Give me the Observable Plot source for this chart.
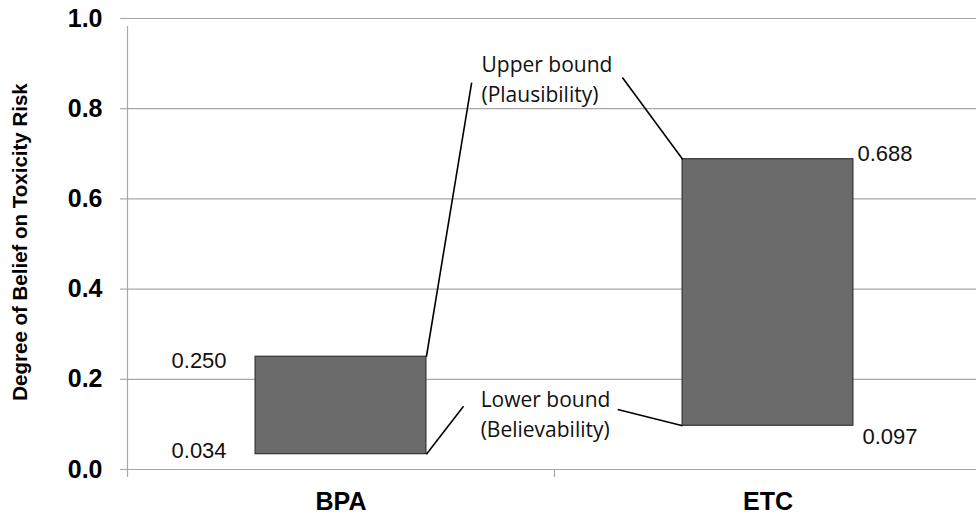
<!DOCTYPE html>
<html><head><meta charset="utf-8">
<script src="https://cdn.jsdelivr.net/npm/d3@7"></script>
<script src="https://cdn.jsdelivr.net/npm/@observablehq/plot@0.6"></script>
<style>body{margin:0;background:#fff}</style>
</head><body><div id="chart"></div>
<script>
const categories = ["BPA", "ETC"];
const lowerBound = [0.034, 0.097];
const upperBound = [0.250, 0.688];
const yTicks = [0, 0.2, 0.4, 0.6, 0.8, 1.0];
const yLabel = "Degree of Belief on Toxicity Risk";
const annotationTexts = ["Upper bound\n(Plausibility)", "Lower bound\n(Believability)"];
const annotationX = [0.829, 0.827];
const annotationY = [0.929, 0.186];
// leader line targets (data units) for [upper, lower] bound of each category
const leaderUpperX = [0.806, 1.159];
const leaderUpperY = [0.858, 0.869];
const leaderLowerX = [0.787, 1.148];
const leaderLowerY = [0.140, 0.133];

const barHalf = 0.2;
const bars = categories.map((c, i) => ({cat: c, i, lo: lowerBound[i], hi: upperBound[i]}));
const leaders = [];
bars.forEach((b, i) => {
  const edge = i === 0 ? b.i + 0.5 + barHalf : b.i + 0.5 - barHalf;
  leaders.push({x1: edge, y1: b.hi, x2: leaderUpperX[i], y2: leaderUpperY[i]});
  leaders.push({x1: edge, y1: b.lo, x2: leaderLowerX[i], y2: leaderLowerY[i]});
});
const annotations = annotationTexts.map((t, i) => ({t, x: annotationX[i], y: annotationY[i]}));
const fmt = d3.format(".3f");
const gray = "#a8a8a8";
const valFont = {fontSize: 22, fontFamily: "Liberation Sans, Arial, sans-serif", fill: "#111"};

const chart = Plot.plot({
  width: 976,
  height: 523,
  marginLeft: 127,
  marginRight: 0,
  marginTop: 18,
  marginBottom: 54,
  style: {fontFamily: "Liberation Sans, Arial, sans-serif", background: "#fff", color: "#000", overflow: "visible"},
  x: {domain: [0, categories.length], range: [127, 981], axis: null},
  y: {domain: [0, 1], axis: null},
  marks: [
    Plot.gridY(yTicks, {stroke: gray, strokeOpacity: 1, strokeWidth: 1.2}),
    Plot.axisY(yTicks, {tickSize: 7, tickPadding: 18, stroke: gray, strokeWidth: 1.2, tickFormat: d3.format(".1f"), fontSize: 25, fontWeight: "bold", fill: "#000"}),
    Plot.axisX(d3.range(categories.length + 1), {tickSize: 8, stroke: gray, strokeWidth: 1.2, tickFormat: () => "", anchor: "bottom"}),
    Plot.ruleY([0], {stroke: gray, strokeWidth: 1.2}),
    Plot.ruleX([0], {y1: 0, y2: 1, stroke: gray, strokeWidth: 1.2, insetBottom: -8}),
    Plot.rectY(bars, {x1: d => d.i + 0.5 - barHalf, x2: d => d.i + 0.5 + barHalf, y1: "lo", y2: "hi", fill: "#6b6b6b", stroke: "#333", strokeWidth: 1.2}),
    Plot.link(leaders, {x1: "x1", y1: "y1", x2: "x2", y2: "y2", stroke: "#000", strokeWidth: 1.6}),
    Plot.text(annotations, {x: "x", y: "y", text: "t", textAnchor: "start", lineAnchor: "top", lineHeight: 1.43, fontSize: 21, fontFamily: "Open Sans, sans-serif", fill: "#111"}),
    // value labels
    Plot.text([bars[0]], {x: d => d.i + 0.5 - barHalf, y: "hi", text: d => fmt(d.hi), textAnchor: "end", dx: -29, dy: 4, ...valFont}),
    Plot.text([bars[0]], {x: d => d.i + 0.5 - barHalf, y: "lo", text: d => fmt(d.lo), textAnchor: "end", dx: -29, dy: -3, ...valFont}),
    Plot.text([bars[1]], {x: d => d.i + 0.5 + barHalf, y: "hi", text: d => fmt(d.hi), textAnchor: "start", dx: 4, dy: -5, ...valFont}),
    Plot.text([bars[1]], {x: d => d.i + 0.5 + barHalf, y: "lo", text: d => fmt(d.lo), textAnchor: "start", dx: 9, dy: 11, ...valFont}),
    // category labels
    Plot.text(bars, {x: d => d.i + 0.5, y: () => 0, text: "cat", dy: 32, fontSize: 25, fontWeight: "bold", fill: "#000"}),
    // y label
    Plot.text([yLabel], {text: d => d, frameAnchor: "left", textAnchor: "middle", rotate: -90, dx: -107, dy: -2, fontSize: 20.5, fontWeight: "bold", fill: "#000"})
  ]
});
document.getElementById("chart").appendChild(chart);
</script>
</body></html>
